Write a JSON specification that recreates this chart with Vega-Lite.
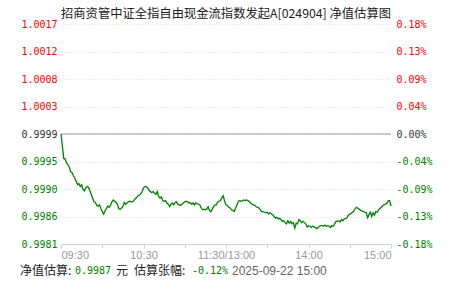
{
  "$schema": "https://vega.github.io/schema/vega-lite/v6.json",
  "width": 330,
  "height": 220,
  "autosize": {"type": "none"},
  "padding": {"left": 61, "top": 24, "right": 60, "bottom": 37},
  "background": "white",
  "title": {"text": "招商资管中证全指自由现金流指数发起A[024904] 净值估算图", "font": "Noto Sans CJK SC", "fontSize": 12.3, "fontWeight": "normal", "color": "#222", "anchor": "middle", "offset": -1},
  "config": {"view": {"stroke": null}},
  "resolve": {"axis": {"y": "independent"}},
  "layer": [
    {
      "data": {"values": [{"m":0}]},
      "mark": {"type": "rule", "color": "#999", "strokeWidth": 1.2},
      "encoding": {
        "y": {"datum": 0, "type": "quantitative", "scale": {"domain": [-0.18, 0.18], "nice": false, "zero": false},
          "axis": {"orient": "right", "values": [-0.18,-0.135,-0.09,-0.045,0,0.045,0.09,0.135,0.18], "title": null, "grid": false, "domain": false, "ticks": false, "labelPadding": 5, "labelFont": "DejaVu Sans Mono", "labelFontSize": 10,
            "labelExpr": "datum.value > 0.17 ? '0.18%' : datum.value > 0.13 ? '0.13%' : datum.value > 0.08 ? '0.09%' : datum.value > 0.04 ? '0.04%' : datum.value > -0.01 ? '0.00%' : datum.value > -0.05 ? '-0.04%' : datum.value > -0.1 ? '-0.09%' : datum.value > -0.14 ? '-0.13%' : '-0.18%'",
            "labelColor": {"condition": [{"test": "datum.value > 0.001", "value": "#ff0000"}, {"test": "datum.value < -0.001", "value": "#008000"}], "value": "#333333"}}}
      }
    },
    {
      "data": {"values": [
        {"m":0,"pct":0.000},{"m":1,"pct":-0.020},{"m":2,"pct":-0.040},{"m":3,"pct":-0.041},{"m":4,"pct":-0.047},{"m":5,"pct":-0.050},{"m":6,"pct":-0.054},{"m":7,"pct":-0.062},{"m":8,"pct":-0.063},{"m":9,"pct":-0.068},
        {"m":10,"pct":-0.072},{"m":11,"pct":-0.077},{"m":12,"pct":-0.083},{"m":13,"pct":-0.081},{"m":14,"pct":-0.086},{"m":15,"pct":-0.083},{"m":16,"pct":-0.091},{"m":17,"pct":-0.093},{"m":18,"pct":-0.088},{"m":19,"pct":-0.086},
        {"m":20,"pct":-0.087},{"m":21,"pct":-0.093},{"m":22,"pct":-0.099},{"m":23,"pct":-0.105},{"m":24,"pct":-0.111},{"m":25,"pct":-0.112},{"m":26,"pct":-0.117},{"m":27,"pct":-0.118},{"m":28,"pct":-0.116},{"m":29,"pct":-0.122},
        {"m":30,"pct":-0.127},{"m":31,"pct":-0.131},{"m":32,"pct":-0.126},{"m":33,"pct":-0.122},{"m":34,"pct":-0.118},{"m":35,"pct":-0.120},{"m":36,"pct":-0.117},{"m":37,"pct":-0.111},{"m":38,"pct":-0.108},{"m":39,"pct":-0.110},
        {"m":40,"pct":-0.112},{"m":41,"pct":-0.115},{"m":42,"pct":-0.122},{"m":43,"pct":-0.123},{"m":44,"pct":-0.121},{"m":45,"pct":-0.119},{"m":46,"pct":-0.112},{"m":47,"pct":-0.115},{"m":48,"pct":-0.113},{"m":49,"pct":-0.111},
        {"m":50,"pct":-0.110},{"m":51,"pct":-0.111},{"m":52,"pct":-0.111},{"m":53,"pct":-0.109},{"m":54,"pct":-0.106},{"m":55,"pct":-0.104},{"m":56,"pct":-0.101},{"m":57,"pct":-0.100},{"m":58,"pct":-0.098},{"m":59,"pct":-0.094},
        {"m":60,"pct":-0.088},{"m":61,"pct":-0.086},{"m":62,"pct":-0.086},{"m":63,"pct":-0.088},{"m":64,"pct":-0.092},{"m":65,"pct":-0.094},{"m":66,"pct":-0.096},{"m":67,"pct":-0.094},{"m":68,"pct":-0.097},{"m":69,"pct":-0.099},
        {"m":70,"pct":-0.094},{"m":71,"pct":-0.102},{"m":72,"pct":-0.105},{"m":73,"pct":-0.103},{"m":74,"pct":-0.109},{"m":75,"pct":-0.110},{"m":76,"pct":-0.109},{"m":77,"pct":-0.113},{"m":78,"pct":-0.115},{"m":79,"pct":-0.119},
        {"m":80,"pct":-0.115},{"m":81,"pct":-0.113},{"m":82,"pct":-0.116},{"m":83,"pct":-0.112},{"m":84,"pct":-0.111},{"m":85,"pct":-0.115},{"m":86,"pct":-0.116},{"m":87,"pct":-0.117},{"m":88,"pct":-0.115},{"m":89,"pct":-0.113},
        {"m":90,"pct":-0.111},{"m":91,"pct":-0.110},{"m":92,"pct":-0.111},{"m":93,"pct":-0.113},{"m":94,"pct":-0.112},{"m":95,"pct":-0.115},{"m":96,"pct":-0.113},{"m":97,"pct":-0.116},{"m":98,"pct":-0.113},{"m":99,"pct":-0.114},
        {"m":100,"pct":-0.115},{"m":101,"pct":-0.116},{"m":102,"pct":-0.121},{"m":103,"pct":-0.124},{"m":104,"pct":-0.123},{"m":105,"pct":-0.124},{"m":106,"pct":-0.123},{"m":107,"pct":-0.119},{"m":108,"pct":-0.125},{"m":109,"pct":-0.127},
        {"m":110,"pct":-0.123},{"m":111,"pct":-0.119},{"m":112,"pct":-0.116},{"m":113,"pct":-0.116},{"m":114,"pct":-0.111},{"m":115,"pct":-0.110},{"m":116,"pct":-0.109},{"m":117,"pct":-0.104},{"m":118,"pct":-0.101},{"m":119,"pct":-0.110},
        {"m":120,"pct":-0.116},{"m":121,"pct":-0.117},{"m":122,"pct":-0.120},{"m":123,"pct":-0.121},{"m":124,"pct":-0.124},{"m":125,"pct":-0.125},{"m":126,"pct":-0.127},{"m":127,"pct":-0.121},{"m":128,"pct":-0.116},{"m":129,"pct":-0.110},
        {"m":130,"pct":-0.109},{"m":131,"pct":-0.110},{"m":132,"pct":-0.109},{"m":133,"pct":-0.108},{"m":134,"pct":-0.109},{"m":135,"pct":-0.108},{"m":136,"pct":-0.109},{"m":137,"pct":-0.111},{"m":138,"pct":-0.113},{"m":139,"pct":-0.115},
        {"m":140,"pct":-0.116},{"m":141,"pct":-0.117},{"m":142,"pct":-0.119},{"m":143,"pct":-0.120},{"m":144,"pct":-0.121},{"m":145,"pct":-0.124},{"m":146,"pct":-0.127},{"m":147,"pct":-0.127},{"m":148,"pct":-0.128},{"m":149,"pct":-0.129},
        {"m":150,"pct":-0.128},{"m":151,"pct":-0.131},{"m":152,"pct":-0.129},{"m":153,"pct":-0.131},{"m":154,"pct":-0.132},{"m":155,"pct":-0.135},{"m":156,"pct":-0.138},{"m":157,"pct":-0.136},{"m":158,"pct":-0.139},{"m":159,"pct":-0.138},
        {"m":160,"pct":-0.140},{"m":161,"pct":-0.143},{"m":162,"pct":-0.142},{"m":163,"pct":-0.145},{"m":164,"pct":-0.147},{"m":165,"pct":-0.142},{"m":166,"pct":-0.146},{"m":167,"pct":-0.143},{"m":168,"pct":-0.147},{"m":169,"pct":-0.145},
        {"m":170,"pct":-0.154},{"m":171,"pct":-0.146},{"m":172,"pct":-0.147},{"m":173,"pct":-0.140},{"m":174,"pct":-0.142},{"m":175,"pct":-0.145},{"m":176,"pct":-0.143},{"m":177,"pct":-0.145},{"m":178,"pct":-0.147},{"m":179,"pct":-0.152},
        {"m":180,"pct":-0.150},{"m":181,"pct":-0.151},{"m":182,"pct":-0.153},{"m":183,"pct":-0.151},{"m":184,"pct":-0.152},{"m":185,"pct":-0.153},{"m":186,"pct":-0.155},{"m":187,"pct":-0.153},{"m":188,"pct":-0.151},{"m":189,"pct":-0.150},
        {"m":190,"pct":-0.150},{"m":191,"pct":-0.151},{"m":192,"pct":-0.149},{"m":193,"pct":-0.151},{"m":194,"pct":-0.150},{"m":195,"pct":-0.151},{"m":196,"pct":-0.153},{"m":197,"pct":-0.150},{"m":198,"pct":-0.151},{"m":199,"pct":-0.147},
        {"m":200,"pct":-0.143},{"m":201,"pct":-0.143},{"m":202,"pct":-0.142},{"m":203,"pct":-0.144},{"m":204,"pct":-0.140},{"m":205,"pct":-0.142},{"m":206,"pct":-0.139},{"m":207,"pct":-0.138},{"m":208,"pct":-0.137},{"m":209,"pct":-0.133},
        {"m":210,"pct":-0.131},{"m":211,"pct":-0.130},{"m":212,"pct":-0.128},{"m":213,"pct":-0.126},{"m":214,"pct":-0.122},{"m":215,"pct":-0.120},{"m":216,"pct":-0.122},{"m":217,"pct":-0.123},{"m":218,"pct":-0.125},{"m":219,"pct":-0.126},
        {"m":220,"pct":-0.127},{"m":221,"pct":-0.128},{"m":222,"pct":-0.129},{"m":223,"pct":-0.137},{"m":224,"pct":-0.132},{"m":225,"pct":-0.128},{"m":226,"pct":-0.135},{"m":227,"pct":-0.129},{"m":228,"pct":-0.133},{"m":229,"pct":-0.127},
        {"m":230,"pct":-0.128},{"m":231,"pct":-0.124},{"m":232,"pct":-0.122},{"m":233,"pct":-0.120},{"m":234,"pct":-0.117},{"m":235,"pct":-0.116},{"m":236,"pct":-0.115},{"m":237,"pct":-0.113},{"m":238,"pct":-0.109},{"m":239,"pct":-0.109},
        {"m":240,"pct":-0.118}
      ]},
      "mark": {"type": "line", "color": "#008000", "strokeWidth": 1.3},
      "encoding": {
        "x": {"field": "m", "type": "quantitative", "scale": {"domain": [0, 240], "nice": false, "zero": false},
          "axis": {"values": [0,30,60,90,120,150,180,210,240], "title": null, "grid": false, "domainColor": "#c8d4e4", "tickColor": "#c8d4e4", "tickSize": 4, "labelColor": "#999999", "labelFont": "Liberation Sans", "labelFontSize": 11, "labelFlush": true, "labelOverlap": false, "labelPadding": 1,
            "labelExpr": "datum.value == 0 ? '09:30' : datum.value == 60 ? '10:30' : datum.value == 120 ? '11:30/13:00' : datum.value == 180 ? '14:00' : datum.value == 240 ? '15:00' : ''"}},
        "y": {"field": "pct", "type": "quantitative", "scale": {"domain": [-0.18, 0.18], "nice": false, "zero": false},
          "axis": {"orient": "left", "values": [-0.18,-0.135,-0.09,-0.045,0,0.045,0.09,0.135,0.18], "title": null, "grid": true, "gridColor": "#dddddd", "gridDash": [1, 2], "domain": false, "ticks": false, "labelPadding": 4, "labelFont": "DejaVu Sans Mono", "labelFontSize": 10,
            "labelExpr": "datum.value > 0.17 ? '1.0017' : datum.value > 0.13 ? '1.0012' : datum.value > 0.08 ? '1.0008' : datum.value > 0.04 ? '1.0003' : datum.value > -0.01 ? '0.9999' : datum.value > -0.05 ? '0.9995' : datum.value > -0.1 ? '0.9990' : datum.value > -0.14 ? '0.9986' : '0.9981'",
            "labelColor": {"condition": [{"test": "datum.value > 0.001", "value": "#ff0000"}, {"test": "datum.value < -0.001", "value": "#008000"}], "value": "#333333"}}}
      }
    },
    {"data": {"values": [{"s": "净值估算:"}]}, "mark": {"type": "text", "align": "left", "baseline": "middle", "font": "Noto Sans CJK SC", "fontSize": 12, "color": "#222"}, "encoding": {"text": {"field": "s"}, "x": {"value": -41}, "y": {"value": 247}}},
    {"data": {"values": [{"s": "0.9987"}]}, "mark": {"type": "text", "align": "left", "baseline": "middle", "font": "DejaVu Sans Mono", "fontSize": 10, "color": "#008000"}, "encoding": {"text": {"field": "s"}, "x": {"value": 14}, "y": {"value": 247}}},
    {"data": {"values": [{"s": "元"}]}, "mark": {"type": "text", "align": "left", "baseline": "middle", "font": "Noto Sans CJK SC", "fontSize": 12, "color": "#222"}, "encoding": {"text": {"field": "s"}, "x": {"value": 55}, "y": {"value": 247}}},
    {"data": {"values": [{"s": "估算张幅:"}]}, "mark": {"type": "text", "align": "left", "baseline": "middle", "font": "Noto Sans CJK SC", "fontSize": 12, "color": "#222"}, "encoding": {"text": {"field": "s"}, "x": {"value": 73}, "y": {"value": 247}}},
    {"data": {"values": [{"s": "-0.12%"}]}, "mark": {"type": "text", "align": "left", "baseline": "middle", "font": "DejaVu Sans Mono", "fontSize": 10, "color": "#008000"}, "encoding": {"text": {"field": "s"}, "x": {"value": 131}, "y": {"value": 247}}},
    {"data": {"values": [{"s": "2025-09-22 15:00"}]}, "mark": {"type": "text", "align": "left", "baseline": "middle", "font": "Liberation Sans", "fontSize": 12, "color": "#666"}, "encoding": {"text": {"field": "s"}, "x": {"value": 171}, "y": {"value": 247}}}
  ]
}
